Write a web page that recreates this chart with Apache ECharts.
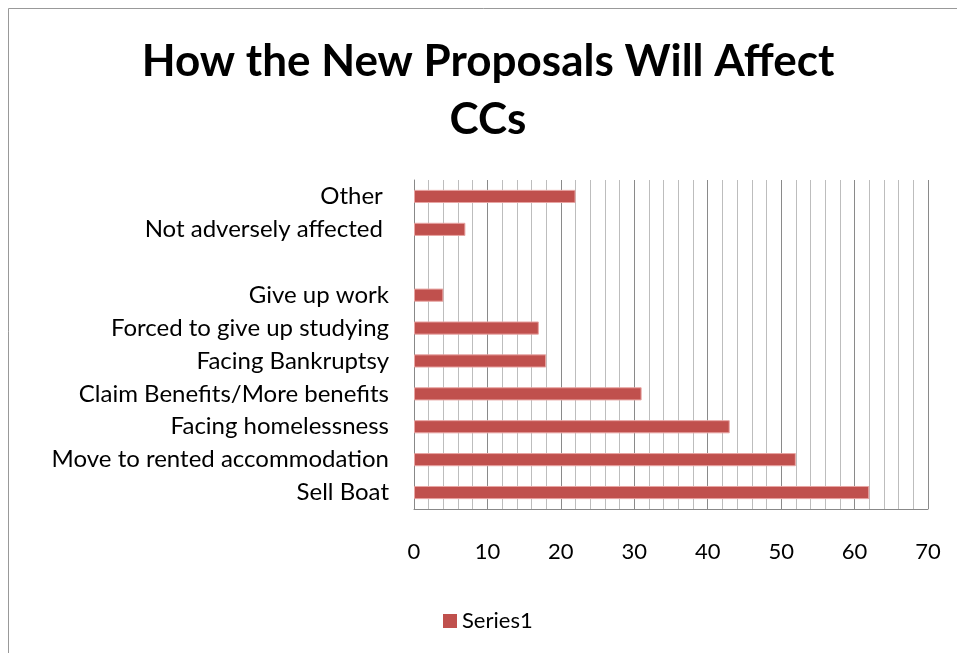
<!DOCTYPE html>
<html><head><meta charset="utf-8">
<script src="https://cdn.jsdelivr.net/npm/echarts@6/dist/echarts.min.js"></script>
<style>html,body{margin:0;padding:0;background:#fff}#c{width:957px;height:653px}</style>
</head><body><div id="c"></div>
<script>
const categories = ['Sell Boat','Move to rented accommodation','Facing homelessness','Claim Benefits/More benefits','Facing Bankruptsy','Forced to give up studying','Give up work','','Not adversely affected ','Other '];
const series1 = [62,52,43,31,18,17,4,null,7,22];
const xTicks = [0,10,20,30,40,50,60,70];
const FONT = 'Lato';
const chart = echarts.init(document.getElementById('c'), null, {renderer:'canvas'});
chart.setOption({
  animation:false,
  backgroundColor:'#fff',
  textStyle:{fontFamily:FONT},
  graphic:[{type:'rect',shape:{x:8.5,y:8.5,width:1000,height:1000},style:{fill:null,stroke:'#999',lineWidth:1},silent:true}],
  title:{text:'How the New Proposals Will Affect\nCCs',left:483,top:28,textAlign:'center',
    textStyle:{fontFamily:FONT,fontWeight:'bold',fontSize:44,lineHeight:58,color:'#000'}},
  legend:{data:['Series1'],left:438,top:605,icon:'rect',itemWidth:14,itemHeight:14,itemGap:6,
    itemStyle:{borderWidth:0},
    textStyle:{fontFamily:FONT,fontSize:22,color:'#000'}},
  grid:{left:414,right:29,top:180,bottom:144,containLabel:false},
  xAxis:{type:'value',min:xTicks[0],max:xTicks[xTicks.length-1],interval:10,
    axisLine:{show:true,lineStyle:{color:'#888'}},axisTick:{show:false},
    axisLabel:{fontFamily:FONT,fontSize:22,color:'#000',margin:32},
    splitLine:{show:true,lineStyle:{color:'#8a8a8a',width:1}},
    minorTick:{show:false,splitNumber:5},
    minorSplitLine:{show:true,lineStyle:{color:'#bdbdbd',width:1}}},
  yAxis:{type:'category',data:categories,
    axisLine:{show:true,lineStyle:{color:'#888'}},axisTick:{show:false},
    axisLabel:{fontFamily:FONT,fontSize:24,color:'#000',margin:25}},
  series:[{name:'Series1',type:'bar',data:series1,barCategoryGap:'60%',
    itemStyle:{color:'#c0504d',borderColor:'#e8a5a3',borderWidth:1}}]
});
</script></body></html>
